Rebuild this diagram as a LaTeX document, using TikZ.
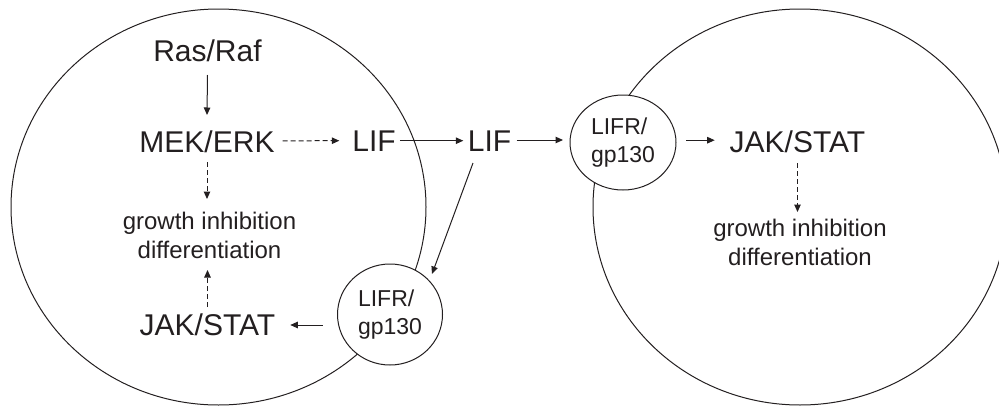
\documentclass[tikz,border=0pt]{standalone}
\usepackage{fontspec}
\setmainfont{Liberation Sans}
\usetikzlibrary{arrows.meta,calc,shapes.geometric}
\definecolor{ink}{RGB}{35,31,32}
\begin{document}
\begin{tikzpicture}[x=1pt,y=-1pt,
  every node/.style={text=ink, inner sep=0pt, outer sep=0pt},
  cell/.style={ellipse, draw=ink, line width=1pt, minimum width=415pt, minimum height=396pt},
  receptor/.style={ellipse, draw=ink, line width=1pt, fill=white, align=left,
    font=\fontsize{23}{28.7}\selectfont},
  big/.style={font=\fontsize{30}{36}\selectfont, text height=21.5pt, text depth=0pt},
  effect/.style={font=\fontsize{24}{29}\selectfont, align=center, anchor=base},
  arr/.style={draw=ink, line width=1pt, -{Triangle[length=7.5pt,width=6.5pt]}},
  dsh/.style={arr, dash pattern=on 5pt off 3pt}]
\useasboundingbox (0,0) rectangle (999,407);
\clip (0,0) rectangle (999,407);

% cells
\node[cell] (cellL) at (218.5,207) {};
\node[cell, minimum width=414pt] (cellR) at (800,207) {};

% receptors
\node[receptor, minimum width=105pt, minimum height=101pt] (lifrL) at (390,314.5) {LIFR/\\gp130};
\node[receptor, minimum width=106pt, minimum height=95pt] (lifrR) at (623,142.5) {LIFR/\\gp130};

% labels
\node[big] (ras)  at (207.5,51)   {Ras/Raf};
\node[big] (mek)  at (207,141.3)  {MEK/ERK};
\node[big] (lif1) at (374,141)    {LIF};
\node[big] (lif2) at (489.5,141)  {LIF};
\node[big] (jakL) at (207.5,325)  {JAK/STAT};
\node[big] (jakR) at (797.5,141.7) {JAK/STAT};
\node[effect] (growL) at (209.5,258.3) {growth inhibition\\differentiation};
\node[effect] (growR) at (800,265.7) {growth inhibition\\differentiation};

% connectors
\draw[arr] ($(ras.center)+(0,24)$) -- ($(mek.center)+(0,-26.3)$);
\draw[dsh] ($(mek.center)+(0,20.7)$) -- ($(mek.center |- growL.base)+(0,-59.3)$);
\draw[dsh] ($(jakL.center)+(0,-18)$) -- ($(jakL.center |- growL.base)+(0,11.7)$);
\draw[dsh] ($(mek.east)+(8,-0.5)$) -- ($(lif1.west)+(-13,-0.3)$);
\draw[arr] ($(lif1.east)+(4.3,-0.3)$) -- ($(lif2.west)+(-4.5,-0.3)$);
\draw[arr] ($(lif2.east)+(5.5,-1)$) -- ($(lifrR.west |- lif2.center)+(-7,-1)$);
\draw[arr] ($(lifrR.east |- jakR.center)+(10,-1.5)$) -- ($(jakR.west)+(-15,-1.5)$);
\draw[dsh] ($(jakR.center)+(0,21.3)$) -- ($(jakR.center |- growR.base)+(0,-53.7)$);
\draw[arr] ($(lifrL.west |- jakL.center)+(-15,0)$) -- ($(jakL.east)+(15,0)$);
\draw[arr] ($(lif2.center)+(-16.5,22)$) -- ($(lifrL.center)+(42,-40.5)$);
\end{tikzpicture}
\end{document}
